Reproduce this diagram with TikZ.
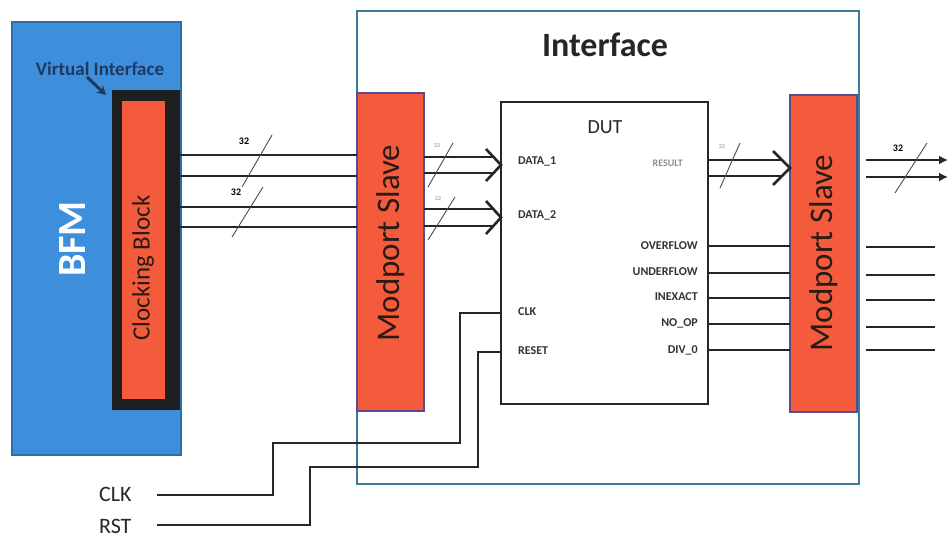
\documentclass[tikz,border=0pt]{standalone}
\usepackage{fontspec}
\setmainfont{Carlito}
\usetikzlibrary{arrows.meta}
\definecolor{bfmblue}{HTML}{3D8FDB}
\definecolor{bfmborder}{HTML}{2C6FA8}
\definecolor{mpred}{HTML}{F45B3C}
\definecolor{mpborder}{HTML}{5B4A8F}
\definecolor{ifborder}{HTML}{3C7A9A}
\definecolor{vitext}{HTML}{1F3A5F}
\definecolor{darktxt}{HTML}{2A1A14}
\tikzset{
  box/.style={draw, rectangle, inner sep=0pt, outer sep=0pt},
  modbox/.style={box, fill=mpred, draw=mpborder, line width=1.2pt},
  bus/.style={line width=2.4pt, draw=black!85},
  sig/.style={line width=1.8pt, draw=black!85},
  slash/.style={line width=0.9pt, draw=black!70},
  chev/.style={line width=2.6pt, draw=black!85, line join=miter},
  pin/.style={font=\fontsize{12}{12}\selectfont\bfseries, text=black!80, inner sep=0pt},
  buslbl/.style={font=\fontsize{10}{10}\selectfont\bfseries, inner sep=0pt},
  tinylbl/.style={font=\fontsize{6}{6}\selectfont, text=black!45, inner sep=0pt},
}
\begin{document}
\begin{tikzpicture}[x=1pt,y=-1pt]
\useasboundingbox (0,0) rectangle (948,539);
\fill[white] (0,0) rectangle (948,539);

% BFM
\node[box, fill=bfmblue, draw=bfmborder, line width=1.5pt, minimum width=169pt, minimum height=433pt] (bfm) at (96.5,238.5) {};
\node[rotate=90, text=white, font=\fontsize{40}{40}\selectfont\bfseries] (bfmtxt) at (73,239) {BFM};
\node[box, fill=black!88, draw=none, minimum width=68pt, minimum height=320pt] (cbo) at (146,250) {};
\node[box, fill=mpred, draw=none, minimum width=43pt, minimum height=298pt] (cb) at (143.5,249.5) {};
\node[rotate=90, text=darktxt, font=\fontsize{25}{25}\selectfont] (cbtxt) at (143,268) {Clocking Block};
\node[text=vitext, font=\fontsize{19}{19}\selectfont\bfseries, inner sep=0pt] (vi) at (100,69) {Virtual Interface};
\coordinate (vistart) at (87,77);
\coordinate (viend) at (106,95);
\draw[line width=3pt, vitext, -{Stealth[length=9pt,width=10pt]}] (vistart) -- (viend);

% Interface
\node[box, fill=white, draw=ifborder, line width=1.5pt, minimum width=502pt, minimum height=473pt] (intf) at (608,247.5) {};
\node[font=\fontsize{34}{34}\selectfont\bfseries, text=black!85] (intftxt) at (605,45) {Interface};

\node[modbox, minimum width=67pt, minimum height=318pt] (mpl) at (390.5,252) {};
\node[rotate=90, text=darktxt, font=\fontsize{33}{33}\selectfont] (mpltxt) at (390.5,243) {Modport Slave};
\node[modbox, minimum width=67pt, minimum height=317pt] (mpr) at (823.5,253.5) {};
\node[rotate=90, text=darktxt, font=\fontsize{33}{33}\selectfont] (mprtxt) at (823.5,253) {Modport Slave};

% DUT
\node[box, fill=white, draw=black!85, line width=2pt, minimum width=207pt, minimum height=302pt] (dut) at (604.5,253) {};
\node[font=\fontsize{20}{20}\selectfont, text=black!85] (duttxt) at (605,127) {DUT};
\node[pin, anchor=west] (pd1) at (518,161) {DATA\_1};
\node[pin, anchor=west] (pd2) at (518,215) {DATA\_2};
\node[pin, anchor=west] (pclk) at (518,312) {CLK};
\node[pin, anchor=west] (prst) at (518,351) {RESET};
\node[pin, anchor=east, text=black!45, font=\fontsize{10}{10}\selectfont\bfseries] (pres) at (683,163) {RESULT};
\node[pin, anchor=east] (pov) at (698,246) {OVERFLOW};
\node[pin, anchor=east] (pun) at (698,272) {UNDERFLOW};
\node[pin, anchor=east] (pin) at (698,297) {INEXACT};
\node[pin, anchor=east] (pno) at (698,323) {NO\_OP};
\node[pin, anchor=east] (pdv) at (698,350) {DIV\_0};

% BFM -> left modport buses
\foreach \y in {155,176,207,227}{
  \draw[bus] (cbo.east |- 0,\y) -- (mpl.west |- 0,\y);
}
\draw[slash] (272,135) -- (242,187);
\node[buslbl] (l1) at (244,141) {32};
\draw[slash] (263,187) -- (232,237);
\node[buslbl] (l2) at (236,192) {32};

% left modport -> DUT buses
\foreach \y in {157,173,209,226}{
  \draw[bus] (mpl.east |- 0,\y) -- (494,\y);
}
\draw[chev] (486,149) -- (dut.west |- 0,165) -- (486,181);
\draw[chev] (486,201) -- (dut.west |- 0,217.5) -- (486,234);
\draw[slash] (453,143) -- (428,187);
\node[tinylbl] (l3) at (437,146) {32};
\draw[slash] (455,197) -- (428,240);
\node[tinylbl] (l4) at (438,199) {32};

% RESULT bus
\foreach \y in {160,176}{
  \draw[bus] (dut.east |- 0,\y) -- (782,\y);
}
\draw[chev] (773,151) -- (mpr.west |- 0,168) -- (773,185);
\draw[slash] (740,143) -- (720,188);
\node[tinylbl] (l5) at (722,147) {32};

% status signals DUT -> right modport
\foreach \y in {246,273,298,324,350}{
  \draw[sig] (dut.east |- 0,\y) -- (mpr.west |- 0,\y);
}

% outputs right of right modport
\coordinate (oend1) at (948,160);
\coordinate (oend2) at (948,177);
\draw[bus, -{Latex[length=9pt,width=9pt]}] (866,160) -- (oend1);
\draw[bus, -{Latex[length=9pt,width=9pt]}] (866,177) -- (oend2);
\draw[slash] (927,143) -- (895,193);
\node[buslbl] (l6) at (898,148) {32};
\foreach \y in {247,275,300,327,350}{
  \coordinate (os\y) at (935,\y);
  \draw[sig] (mpr.east |- 0,\y) ++(9,0) -- (os\y);
}

% CLK / RST
\node[font=\fontsize{22}{22}\selectfont, text=black!85, anchor=east] (clk) at (135,494) {CLK};
\node[font=\fontsize{22}{22}\selectfont, text=black!85, anchor=east] (rst) at (135,526) {RST};
\draw[sig] (157,495) -- (273,495) -- (273,443) -- (intf.west |- 0,443);
\draw[sig] (157,525) -- (310,525) -- (310,467) -- (intf.west |- 0,467);
\draw[sig] (intf.west |- 0,443) -- (460,443) -- (460,313) -- (dut.west |- 0,313);
\draw[sig] (intf.west |- 0,467) -- (478,467) -- (478,352) -- (dut.west |- 0,352);
\end{tikzpicture}
\end{document}
